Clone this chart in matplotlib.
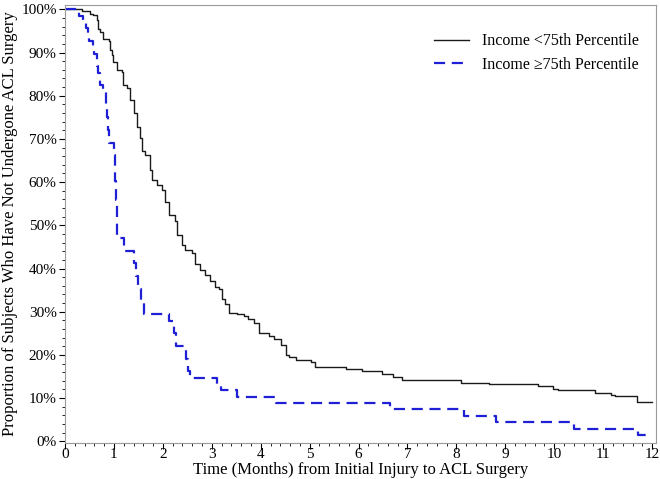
import matplotlib
matplotlib.use("Agg")
import matplotlib.pyplot as plt
from matplotlib.ticker import MultipleLocator, FuncFormatter

plt.rcParams['font.family'] = ['Liberation Serif', 'DejaVu Serif']

# Kaplan-Meier estimates (months, % not yet operated)
low_t = [0, 0.34, 0.51, 0.58, 0.65, 0.68, 0.72, 0.78, 0.89, 0.92, 0.96, 0.99,
         1.06, 1.16, 1.19, 1.26, 1.33, 1.40, 1.47, 1.54, 1.57, 1.64, 1.74, 1.78,
         1.88, 1.98, 2.05, 2.12, 2.25, 2.29, 2.39, 2.46, 2.59, 2.66, 2.76, 2.87,
         2.97, 3.07, 3.14, 3.21, 3.28, 3.35, 3.52, 3.65, 3.75, 3.86, 3.97, 4.17,
         4.27, 4.41, 4.52, 4.58, 4.72, 5.03, 5.10, 5.75, 6.06, 6.47, 6.71, 6.89,
         8.09, 8.67, 9.67, 9.98, 10.08, 10.84, 11.15, 11.25, 11.70, 12.0]
low_s = [100, 99.5, 99.0, 98.6, 97.5, 95.5, 94.8, 93.2, 92.7, 90.5, 89.4, 87.8,
         85.9, 85.5, 82.5, 81.7, 79.0, 75.9, 72.8, 70.2, 67.1, 66.3, 62.8, 60.5,
         59.4, 58.2, 55.5, 52.5, 51.0, 47.8, 45.5, 44.3, 43.6, 41.0, 39.6, 38.4,
         37.2, 35.8, 35.2, 33.0, 31.7, 29.8, 29.4, 29.0, 28.2, 27.4, 25.0, 24.4,
         23.6, 22.4, 20.0, 19.6, 18.8, 18.4, 17.2, 16.8, 16.2, 15.6, 14.8, 14.2,
         13.6, 13.2, 12.8, 12.0, 11.8, 11.2, 10.8, 10.4, 9.2, 9.2]

high_t = [0, 0.29, 0.36, 0.42, 0.47, 0.50, 0.58, 0.60, 0.65, 0.68, 0.71, 0.77,
          0.84, 0.85, 0.87, 0.89, 1.01, 1.02, 1.03, 1.05, 1.06, 1.07, 1.21, 1.40,
          1.45, 1.50, 1.55, 1.62, 2.13, 2.23, 2.27, 2.47, 2.51, 2.55, 3.10, 3.18,
          3.52, 4.31, 6.65, 8.16, 8.81, 10.41, 11.72, 12.0]
high_s = [100, 98.5, 97.1, 95.6, 94.1, 92.6, 91.2, 89.7, 86.8, 85.3, 82.4, 80.9,
          77.9, 75.0, 72.1, 69.1, 66.2, 63.2, 60.3, 55.9, 51.5, 47.1, 44.1, 41.2,
          38.2, 35.3, 32.4, 29.4, 27.9, 25.0, 22.1, 19.1, 16.2, 14.7, 13.2, 11.8,
          10.3, 8.8, 7.4, 5.9, 4.4, 2.9, 1.5, 1.5]

fig = plt.figure(figsize=(6.6, 4.79), dpi=100)
ax = fig.add_axes([0.0985, 0.076, 0.8955, 0.9136])

ax.step(low_t, low_s, where='post', color='#1a1a1a', lw=1.0,
        label='Income <75th Percentile')
ax.step(high_t, high_s, where='post', color='#1f1fd6', lw=1.6,
        dashes=(5, 3), label='Income \u226575th Percentile')

ax.set_xlim(0, 12.08)
ax.set_ylim(-0.3, 101)
ax.xaxis.set_major_locator(MultipleLocator(1))
ax.xaxis.set_minor_locator(MultipleLocator(0.2))
ax.yaxis.set_major_locator(MultipleLocator(10))
ax.yaxis.set_minor_locator(MultipleLocator(2))
ax.yaxis.set_major_formatter(FuncFormatter(lambda v, p: '%d%%' % v))
ax.tick_params(which='major', length=4, width=0.8, labelsize=11, direction='out')
ax.tick_params(which='minor', length=2.5, width=0.6, direction='out')
ax.tick_params(axis='x', pad=0)
ax.tick_params(axis='y', pad=2)

for s in ax.spines.values():
    s.set_color('#9a9a9a')
    s.set_linewidth(0.8)

ax.set_xlabel('Time (Months) from Initial Injury to ACL Surgery', fontsize=12, labelpad=0.5)
ax.set_ylabel('Proportion of Subjects Who Have Not Undergone ACL Surgery', fontsize=12, labelpad=2)

ax.legend(loc='upper right', frameon=False, fontsize=11.5, handlelength=2.2,
          bbox_to_anchor=(0.995, 0.968), labelspacing=0.45)

fig.savefig('out.png', dpi=100)
